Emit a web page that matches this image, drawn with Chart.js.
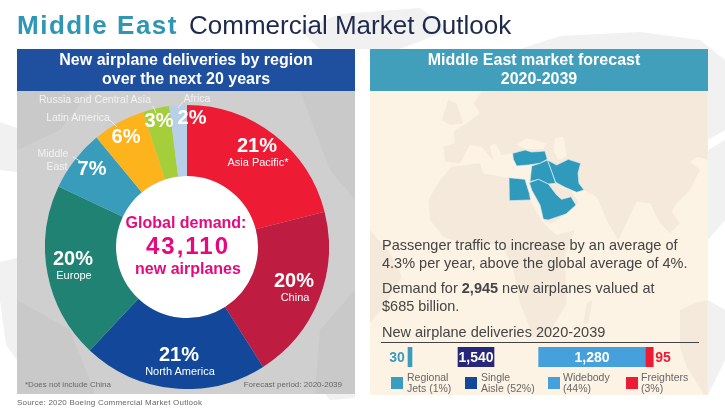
<!DOCTYPE html>
<html>
<head>
<meta charset="utf-8">
<title>Middle East Commercial Market Outlook</title>
<script src="https://cdn.jsdelivr.net/npm/chart.js@4"></script>
<style>
  html, body { margin: 0; padding: 0; background: #fff; }
  body { width: 725px; height: 413px; position: relative; overflow: hidden; font-family: "Liberation Sans", Arial, sans-serif; }
  .t { position: absolute; white-space: nowrap; transform: translate(-50%, -50%); line-height: 1; }
  .l { position: absolute; white-space: nowrap; transform: translateY(-50%); line-height: 1; }
  .box { position: absolute; }
  svg, canvas { position: absolute; }
  .pct { color: #fff; font-weight: bold; font-size: 20px; }
  .sub { color: #fff; font-size: 11px; }
  .out { color: #f2f2f2; font-size: 10.5px; }
  .pink { color: #e5097f; font-weight: bold; font-size: 16px; }
  .head { color: #fff; font-weight: bold; font-size: 16px; }
  .body { color: #444; font-size: 14.5px; }
  .note { color: #666; font-size: 8px; }
  .leg { color: #666; font-size: 10.5px; }
</style>
</head>
<body>

<svg width="725" height="413" style="left:0;top:0">
  <g fill="#f1f1f1">
    <polygon points="300,30 340,14 420,8 450,30 400,49 320,49"/>
    <polygon points="520,49 560,36 640,32 700,40 725,60 725,130 708,140 708,49"/>
    <polygon points="0,122 17,128 17,172 0,170"/>
    <polygon points="0,262 17,258 17,360 6,345 0,300"/>
    <polygon points="708,150 725,140 725,220 708,240"/>
    <polygon points="708,300 725,310 725,360 708,395"/>
    <polygon points="325,394 355,394 355,398 330,400"/>
  </g>
</svg>

<!-- panels -->
<div class="box" style="left:17px;top:91px;width:338px;height:303px;background:#cfcfcf"></div>
<div class="box" style="left:17px;top:49px;width:338px;height:42px;background:#1f4f9f"></div>
<div class="box" style="left:370px;top:91px;width:338px;height:304px;background:#fdf3e5"></div>
<div class="box" style="left:370px;top:49px;width:338px;height:42px;background:#429fbc"></div>

<svg width="725" height="413" style="left:0;top:0">
  <g fill="#c9c9c9">
    <polygon points="17,91 90,91 60,130 17,150"/>
    <polygon points="17,300 70,330 95,394 17,394"/>
    <polygon points="300,91 355,91 355,200 330,170"/>
    <polygon points="320,330 355,290 355,394 315,394"/>
  </g>
  <clipPath id="mapClip"><rect x="370" y="91" width="338" height="304"/></clipPath>
  <g clip-path="url(#mapClip)">
    <g transform="translate(370,90) scale(0.3333)" fill="#f4e9da">
      <!-- Europe and Asia -->
      <polygon points="220,170 255,160 250,125 290,100 330,70 310,40 340,0 1013,0 1013,210 985,200 960,215 990,240 960,300 920,340 905,365 930,400 900,430 870,400 840,340 800,335 745,450 715,400 680,320 640,300 600,290 560,290 530,260 490,225 430,215 425,190 395,195 375,160 360,170 372,215 335,170 300,165 270,220 225,215"/>
      <!-- British Isles -->
      <polygon points="215,90 235,30 260,40 280,100 240,105"/>
      <!-- Arabia edge -->
      <polygon points="480,270 510,262 560,290 600,300 625,335 600,365 545,400 525,395 510,350 490,310"/>
      <!-- Africa -->
      <polygon points="175,330 210,270 245,230 330,220 340,250 420,265 480,330 520,400 560,435 615,420 585,500 590,640 530,740 490,740 450,640 430,540 395,460 300,470 220,440 180,390"/>
      <!-- South America -->
      <polygon points="0,420 60,490 95,560 40,650 0,700"/>
      <!-- Madagascar -->
      <polygon points="650,640 668,630 655,700 640,700"/>
      <!-- Australia -->
      <polygon points="930,660 975,640 1013,630 1013,930 950,830 930,770"/>
    </g>
    <g transform="translate(370,90) scale(0.3333)" fill="#fdf3e5">
      <!-- Black Sea and Caspian -->
      <polygon points="440,165 470,145 530,160 520,178 470,178"/>
      <polygon points="555,145 580,140 590,200 565,210 550,180"/>
    </g>
    <g transform="translate(490,140) scale(0.3333)" fill="#2f9abc" stroke="#e4eef0" stroke-width="2" stroke-linejoin="round">
      <polygon points="68,40 105,30 125,36 165,33 172,58 150,70 115,75 80,78 70,58"/>
      <polygon points="172,60 200,75 235,58 272,70 264,100 267,130 282,150 260,157 225,142 197,127 185,95"/>
      <polygon points="125,78 150,70 172,60 185,95 197,130 175,132 145,118 120,125"/>
      <polygon points="118,128 145,118 175,132 200,165 215,178 243,170 258,195 228,222 175,240 160,238 150,195 125,150"/>
      <polygon points="57,113 105,118 118,160 122,180 58,182"/>
    </g>
  </g>
</svg>

<!-- doughnut hole is white in the original -->
<div class="box" style="left:116px;top:176px;width:142px;height:142px;border-radius:50%;background:#fff"></div>
<canvas id="regionChart" width="284" height="284" style="left:45px;top:105px;width:284px;height:284px"></canvas>
<canvas id="fleetChart" width="260" height="20" style="left:400px;top:347px;width:260px;height:20px"></canvas>

<svg width="725" height="413" style="left:0;top:0">
  <g stroke="#f2f2f2" stroke-width="0.8" fill="none">
    <polyline points="153,106 156,113"/>
    <polyline points="183,102 178,108"/>
    <polyline points="110,120 117,127"/>
    <polyline points="73,157 80,161"/>
  </g>
  <line x1="381" y1="342.5" x2="699" y2="342.5" stroke="#444" stroke-width="1"/>
</svg>

<!-- title -->
<div class="l" style="left:17px;top:25px;font-size:26px;font-weight:bold;color:#2f96b4;letter-spacing:1.5px">Middle East</div>
<div class="l" style="left:189px;top:25px;font-size:26px;color:#1d2a4d">Commercial Market Outlook</div>

<!-- panel headers -->
<div class="t head" style="left:186px;top:60px">New airplane deliveries by region</div>
<div class="t head" style="left:186px;top:79px">over the next 20 years</div>
<div class="t head" style="left:534px;top:60px">Middle East market forecast</div>
<div class="t head" style="left:539px;top:79px">2020-2039</div>

<!-- outside labels -->
<div class="t out" style="left:95px;top:99px">Russia and Central Asia</div>
<div class="t out" style="left:197px;top:98px">Africa</div>
<div class="t out" style="left:78px;top:117px">Latin America</div>
<div class="t out" style="left:53px;top:153px">Middle</div>
<div class="t out" style="left:57px;top:166px">East</div>

<!-- centre -->
<div class="t pink" style="left:186px;top:223px">Global demand:</div>
<div class="t pink" id="globalTotal" style="left:188px;top:246px;font-size:24px;letter-spacing:2px"></div>
<div class="t pink" style="left:188px;top:269px">new airplanes</div>

<!-- right panel text -->
<div class="l body" style="left:382px;top:245px">Passenger traffic to increase by an average of</div>
<div class="l body" style="left:382px;top:263px">4.3% per year, above the global average of 4%.</div>
<div class="l body" style="left:382px;top:288px">Demand for <b>2,945</b> new airplanes valued at</div>
<div class="l body" style="left:382px;top:306px">$685 billion.</div>
<div class="l body" style="left:382px;top:332px">New airplane deliveries 2020-2039</div>

<!-- footnotes -->
<div class="l note" style="left:25px;top:385px">*Does not include China</div>
<div class="l note" style="right:383px;top:385px">Forecast period: 2020-2039</div>
<div class="l note" style="left:17px;top:403px;letter-spacing:0.2px">Source: 2020 Boeing Commercial Market Outlook</div>

<div id="labels"></div>

<script>
// regional shares, clockwise from 12 o'clock
const regions = ["Asia Pacific*", "China", "North America", "Europe", "Middle East", "Latin America", "Russia and Central Asia", "Africa"];
const regionShares = [21, 20, 21, 20, 7, 6, 3, 2];
const regionColors = ["#ed1b34", "#be1c40", "#12479a", "#1f8272", "#3a9cbb", "#fdb31c", "#a4ce3a", "#b8cfe8"];
const globalTotal = "43,110";

// delivery figures printed on the bars
const fleetNames = ["Regional Jets", "Single Aisle", "Widebody", "Freighters"];
const fleetDeliveries = [30, 1540, 1280, 95];
const fleetShares = [1, 52, 44, 3];
// bar ends as drawn in the picture, on its own delivery scale (single aisle is drawn cut short there)
const fleetBarFrom = [96, 696, 1664, 2944];
const fleetBarTo = [144, 1128, 2944, 3039];
const fleetColors = ["#3a9dbf", "#26277b", "#45a0dc", "#ed1b34"];

// where the share labels sit on the doughnut
const shareSpots = [[257, 145], [294, 280], [179, 354], [73, 258], [92, 168], [126, 136], [159, 120], [192, 117]];
const nameSpots = { 0: [258, 162], 1: [295, 297], 2: [180, 371], 3: [74, 275] };

new Chart(document.getElementById("regionChart"), {
  type: "doughnut",
  data: {
    labels: regions,
    datasets: [{ data: regionShares, backgroundColor: regionColors, borderWidth: 0 }]
  },
  options: {
    responsive: false,
    animation: false,
    cutout: "50%",
    layout: { padding: 0 },
    plugins: { legend: { display: false }, tooltip: { enabled: false } }
  }
});

new Chart(document.getElementById("fleetChart"), {
  type: "bar",
  data: {
    labels: ["Deliveries"],
    datasets: fleetNames.map((name, i) => ({
      label: name,
      data: [[fleetBarFrom[i], fleetBarTo[i]]],
      backgroundColor: fleetColors[i],
      barPercentage: 1,
      categoryPercentage: 1,
      grouped: false
    }))
  },
  options: {
    indexAxis: "y",
    responsive: false,
    animation: false,
    layout: { padding: 0 },
    scales: {
      x: { display: false, min: 0, max: 3120 },
      y: { display: false }
    },
    plugins: { legend: { display: false }, tooltip: { enabled: false } }
  }
});

function addText(cls, text, x, y, extra) {
  const el = document.createElement("div");
  el.className = cls;
  el.textContent = text;
  el.style.left = x + "px";
  el.style.top = y + "px";
  if (extra) el.style.cssText += extra;
  document.getElementById("labels").appendChild(el);
}

document.getElementById("globalTotal").textContent = globalTotal;

regionShares.forEach((v, i) => {
  addText("t pct", v + "%", shareSpots[i][0], shareSpots[i][1]);
  if (nameSpots[i]) addText("t sub", regions[i], nameSpots[i][0], nameSpots[i][1]);
});

// bar value labels
const numFmt = v => v.toLocaleString("en-US");
const barLabelStyle = "font-weight:bold;font-size:14px;";
addText("t", numFmt(fleetDeliveries[0]), 397, 357, barLabelStyle + "color:#3a9dbf");
addText("t", numFmt(fleetDeliveries[1]), 476, 357, barLabelStyle + "color:#fff");
addText("t", numFmt(fleetDeliveries[2]), 592, 357, barLabelStyle + "color:#fff");
addText("t", numFmt(fleetDeliveries[3]), 663, 357, barLabelStyle + "color:#ed1b34");

// legend
const swatchX = [391, 465, 548, 626];
const legendX = [407, 481, 563, 641];
const legendLines = [
  [fleetNames[0].split(" ")[0], fleetNames[0].split(" ")[1] + " (" + fleetShares[0] + "%)"],
  [fleetNames[1].split(" ")[0], fleetNames[1].split(" ")[1] + " (" + fleetShares[1] + "%)"],
  [fleetNames[2], "(" + fleetShares[2] + "%)"],
  [fleetNames[3], "(" + fleetShares[3] + "%)"]
];
const swatchColors = ["#3a9dbf", "#12479a", "#45a0dc", "#ed1b34"];
legendLines.forEach((lines, i) => {
  const sw = document.createElement("div");
  sw.className = "box";
  sw.style.cssText = `left:${swatchX[i]}px;top:377px;width:12px;height:12px;background:${swatchColors[i]}`;
  document.getElementById("labels").appendChild(sw);
  addText("l leg", lines[0], legendX[i], 377);
  addText("l leg", lines[1], legendX[i], 388);
});
</script>
</body>
</html>
